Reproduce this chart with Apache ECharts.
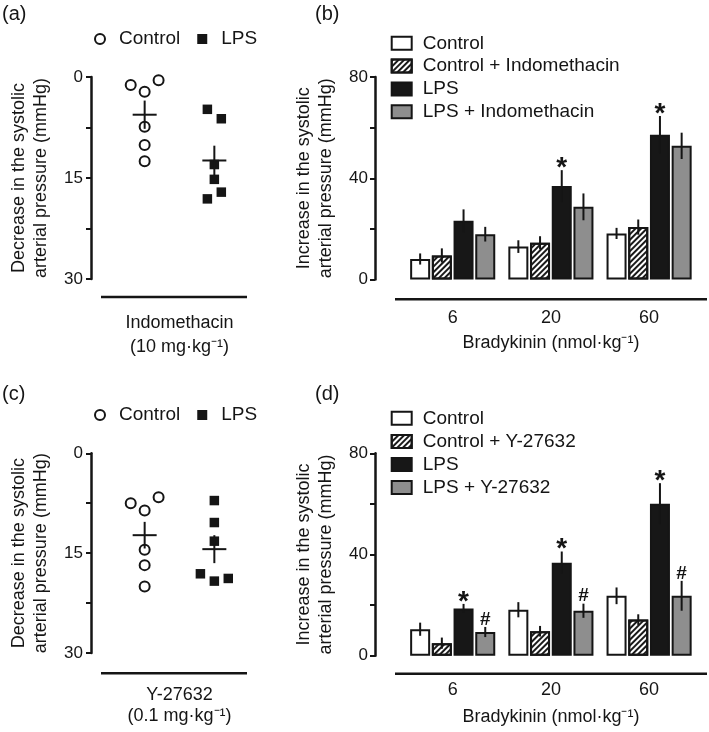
<!DOCTYPE html>
<html>
<head>
<meta charset="utf-8">
<script src="https://cdn.jsdelivr.net/npm/echarts@6/dist/echarts.min.js"></script>
<style>
body { margin: 0; background: #fff; }
.panel { position: absolute; }
</style>
</head>
<body>
<div id="pa" class="panel" style="left:0;top:0;width:280px;height:366px"></div>
<div id="pb" class="panel" style="left:280px;top:0;width:429px;height:366px"></div>
<div id="pc" class="panel" style="left:0;top:366px;width:280px;height:366px"></div>
<div id="pd" class="panel" style="left:280px;top:366px;width:429px;height:366px"></div>
<script>
// scatter panels (a, c): individual rats, jitter = horizontal offset inside a group
var groups = ['Control', 'LPS'];
var aControl = [1.2, 2.2, 0.5, 7.4, 10.1, 12.5];
var aControlJitter = [-0.2, 0, 0.2, 0, 0, 0];
var aLps = [4.8, 6.2, 13.0, 15.2, 17.1, 18.1];
var aLpsJitter = [-0.1, 0.1, 0, 0, 0.1, -0.1];
var aMean = [5.6, 12.4];
var aSem = [2.1, 2.2];

var cControl = [7.5, 8.6, 6.6, 14.5, 16.8, 20.0];
var cControlJitter = [-0.2, 0, 0.2, 0, 0, 0];
var cLps = [7.1, 10.4, 13.2, 18.1, 19.2, 18.8];
var cLpsJitter = [0, 0, 0, -0.2, 0, 0.2];
var cMean = [12.3, 14.4];
var cSem = [2.0, 2.1];

// bar panels (b, d)
var doses = ['6', '20', '60'];
var bNames = ['Control', 'Control + Indomethacin', 'LPS', 'LPS + Indomethacin'];
var bControl = [8.1, 13.0, 18.2];
var bControlIndo = [9.5, 14.5, 20.7];
var bLps = [23.2, 36.9, 57.2];
var bLpsIndo = [17.9, 28.7, 52.8];
var bControlSem = [2.2, 2.5, 2.2];
var bControlIndoSem = [2.8, 2.6, 3.0];
var bLpsSem = [4.5, 6.3, 7.4];
var bLpsIndoSem = [2.9, 5.3, 5.2];
var bLpsMarks = ['', '*', '*'];
var bLpsIndoMarks = ['', '', ''];

var dNames = ['Control', 'Control + Y-27632', 'LPS', 'LPS + Y-27632'];
var dControl = [10.5, 18.2, 23.7];
var dControlY = [5.0, 9.7, 14.3];
var dLps = [18.7, 36.8, 60.1];
var dLpsY = [9.4, 17.8, 23.7];
var dControlSem = [2.6, 3.0, 3.3];
var dControlYSem = [2.2, 2.1, 2.1];
var dLpsSem = [1.8, 4.4, 8.1];
var dLpsYSem = [2.0, 2.8, 5.9];
var dLpsMarks = ['*', '*', '*'];
var dLpsYMarks = ['#', '#', '#'];

var FONT = '"Liberation Sans", Arial, sans-serif';
var INK = '#151515';

function scatterPanel(id, o) {
  var chart = echarts.init(document.getElementById(id));
  function pts(vals, jit, g) {
    return vals.map(function (v, i) { return [g + jit[i], v]; });
  }
  var meanData = o.mean.map(function (m, i) { return [i + 1, m, o.sem[i]]; });
  chart.setOption({
    animation: false,
    textStyle: { fontFamily: FONT, color: INK },
    title: { text: o.tag, left: 2, top: o.tagTop, padding: 0,
      textStyle: { fontFamily: FONT, fontSize: 20, fontWeight: 'normal', color: INK } },
    legend: {
      left: 94, top: o.legendTop, padding: 0, itemWidth: 10, itemHeight: 10, itemGap: 17,
      textStyle: { fontFamily: FONT, fontSize: 19, color: INK, padding: [0, 0, 0, 9] },
      data: groups
    },
    grid: { left: 80, top: o.top, width: 188, height: 202 },
    xAxis: {
      type: 'value', min: 0.23, max: 2.77,
      axisLine: { show: false }, axisTick: { show: false }, axisLabel: { show: false }, splitLine: { show: false },
      name: o.xName, nameLocation: 'middle', nameGap: o.xNameGap,
      nameTextStyle: { fontFamily: FONT, fontSize: 18, color: INK, lineHeight: o.xLine }
    },
    yAxis: {
      type: 'value', inverse: true, min: 0, max: 30, interval: 7.5,
      axisLine: { show: true, lineStyle: { color: INK, width: 2.5 } },
      axisTick: { show: true, length: 5, lineStyle: { color: INK, width: 2 } },
      axisLabel: { fontFamily: FONT, fontSize: 17, color: INK, margin: 8,
        formatter: function (v) { return v % 15 === 0 ? String(v) : ''; } },
      splitLine: { show: false },
      name: 'Decrease in the systolic\narterial pressure (mmHg)', nameLocation: 'middle', nameGap: 39,
      nameTextStyle: { fontFamily: FONT, fontSize: 18, color: INK, lineHeight: 22 }
    },
    graphic: [{
      type: 'line', shape: { x1: 101, y1: o.top + 220, x2: 247, y2: o.top + 220 },
      style: { stroke: INK, lineWidth: 2.5 }
    }],
    series: [
      { type: 'scatter', name: 'Control', symbol: 'circle', symbolSize: 10, z: 2,
        itemStyle: { color: '#fff', borderColor: INK, borderWidth: 2, opacity: 1 },
        data: pts(o.control, o.controlJitter, 1) },
      { type: 'scatter', name: 'LPS', symbol: 'rect', symbolSize: 9.5, z: 2,
        itemStyle: { color: INK, opacity: 1 },
        data: pts(o.lps, o.lpsJitter, 2) },
      { type: 'custom', name: 'mean', z: 5, data: meanData,
        renderItem: function (params, api) {
          var c = api.coord([api.value(0), api.value(1)]);
          var lo = api.coord([api.value(0), api.value(1) - api.value(2)]);
          var hi = api.coord([api.value(0), api.value(1) + api.value(2)]);
          return { type: 'group', children: [
            { type: 'line', shape: { x1: c[0] - 12, y1: c[1], x2: c[0] + 12, y2: c[1] }, style: { stroke: INK, lineWidth: 2 } },
            { type: 'line', shape: { x1: c[0], y1: lo[1], x2: c[0], y2: hi[1] }, style: { stroke: INK, lineWidth: 2 } }
          ] };
        } }
    ]
  });
}

var BAR_W = 20, BAR_SPACE = 1.7;
var barStyles = [
  { color: '#fff', borderColor: INK, borderWidth: 2 },
  { color: '#fff', borderColor: INK, borderWidth: 2,
    decal: { symbol: 'rect', symbolSize: 1, color: '#1a1a1a', dashArrayX: [1, 0], dashArrayY: [1.3, 1.8], rotation: -Math.PI / 4 } },
  { color: '#171717', borderColor: INK, borderWidth: 2 },
  { color: '#8e8e8e', borderColor: INK, borderWidth: 2 }
];

function barPanel(id, o) {
  var chart = echarts.init(document.getElementById(id));
  var pitch = BAR_W + BAR_SPACE;
  var series = o.names.map(function (name, i) {
    return { type: 'bar', name: name, data: o.means[i], barWidth: BAR_W,
      barGap: (BAR_SPACE / BAR_W * 100) + '%', itemStyle: barStyles[i], z: 2 };
  });
  var errData = [];
  o.means.forEach(function (m, s) {
    m.forEach(function (v, c) { errData.push([c, v, o.sems[s][c], s]); });
  });
  var marks = errData.map(function (d) { return (o.marks[d[3]] || [])[d[0]] || ''; });
  series.push({ type: 'custom', name: 'sem', z: 5, data: errData,
    renderItem: function (params, api) {
      var c = api.value(0), v = api.value(1), e = api.value(2), s = api.value(3);
      var dx = (s - 1.5) * pitch;
      var lo = api.coord([c, v - e]), hi = api.coord([c, v + e]);
      var x = lo[0] + dx;
      var kids = [{ type: 'line', shape: { x1: x, y1: lo[1], x2: x, y2: hi[1] }, style: { stroke: INK, lineWidth: 2 } }];
      var mk = marks[params.dataIndex];
      if (mk) {
        var star = mk === '*';
        kids.push({ type: 'text', style: { text: mk, x: x, y: hi[1] + (star ? 12 : 2),
          textAlign: 'center', textVerticalAlign: 'bottom', fontFamily: FONT,
          fontSize: star ? 28 : 19, fontWeight: 'bold', fill: INK } });
      }
      return { type: 'group', children: kids };
    } });

  chart.setOption({
    animation: false,
    textStyle: { fontFamily: FONT, color: INK },
    title: { text: o.tag, left: 35, top: o.tagTop, padding: 0,
      textStyle: { fontFamily: FONT, fontSize: 20, fontWeight: 'normal', color: INK } },
    legend: {
      orient: 'vertical', left: 110.7, top: o.legendTop, padding: 0, icon: 'rect',
      itemWidth: 20, itemHeight: 13, itemGap: o.legendGap,
      itemStyle: { borderColor: INK, borderWidth: 2 },
      textStyle: { fontFamily: FONT, fontSize: 19, color: INK, lineHeight: 19, padding: [0, 0, 0, 6] },
      data: o.names
    },
    grid: { left: 123.6, top: o.top, width: 294.6, height: 202.5 },
    xAxis: {
      type: 'category', data: doses,
      axisLine: { show: false }, axisTick: { show: false },
      axisLabel: { fontFamily: FONT, fontSize: 18, color: INK, margin: o.labelMargin },
      name: 'Bradykinin (nmol·kg⁻¹)', nameLocation: 'middle', nameGap: o.nameGap,
      nameTextStyle: { fontFamily: FONT, fontSize: 18, color: INK }
    },
    yAxis: {
      type: 'value', min: 0, max: 80, interval: 20, offset: 28.6,
      axisLine: { show: true, lineStyle: { color: INK, width: 2.5 } },
      axisTick: { show: true, length: 5, lineStyle: { color: INK, width: 2 } },
      axisLabel: { fontFamily: FONT, fontSize: 17, color: INK, margin: 7,
        formatter: function (v) { return v % 40 === 0 ? String(v) : ''; } },
      splitLine: { show: false },
      name: 'Increase in the systolic\narterial pressure (mmHg)', nameLocation: 'middle', nameGap: 38,
      nameTextStyle: { fontFamily: FONT, fontSize: 18, color: INK, lineHeight: 22 }
    },
    graphic: [{
      type: 'line', shape: { x1: 115, y1: o.top + 202.5 + o.lineDrop, x2: 427, y2: o.top + 202.5 + o.lineDrop },
      style: { stroke: INK, lineWidth: 2.5 }
    }],
    series: series
  });
}

scatterPanel('pa', { tag: '(a)', tagTop: 4, legendTop: 29.5, top: 77,
  xName: 'Indomethacin\n(10 mg·kg⁻¹)', xNameGap: 32, xLine: 24,
  control: aControl, controlJitter: aControlJitter, lps: aLps, lpsJitter: aLpsJitter, mean: aMean, sem: aSem });
scatterPanel('pc', { tag: '(c)', tagTop: 18, legendTop: 39.5, top: 87.3,
  xName: 'Y-27632\n(0.1 mg·kg⁻¹)', xNameGap: 32, xLine: 21,
  control: cControl, controlJitter: cControlJitter, lps: cLps, lpsJitter: cLpsJitter, mean: cMean, sem: cSem });

barPanel('pb', { tag: '(b)', tagTop: 4, legendTop: 33.8, legendGap: 3.8, top: 77, labelMargin: 30, nameGap: 55, lineDrop: 19.7,
  names: bNames, means: [bControl, bControlIndo, bLps, bLpsIndo],
  sems: [bControlSem, bControlIndoSem, bLpsSem, bLpsIndoSem],
  marks: [null, null, bLpsMarks, bLpsIndoMarks] });
barPanel('pd', { tag: '(d)', tagTop: 18, legendTop: 42.8, legendGap: 4.1, top: 87.3, labelMargin: 25, nameGap: 52, lineDrop: 18,
  names: dNames, means: [dControl, dControlY, dLps, dLpsY],
  sems: [dControlSem, dControlYSem, dLpsSem, dLpsYSem],
  marks: [null, null, dLpsMarks, dLpsYMarks] });
</script>
</body>
</html>
